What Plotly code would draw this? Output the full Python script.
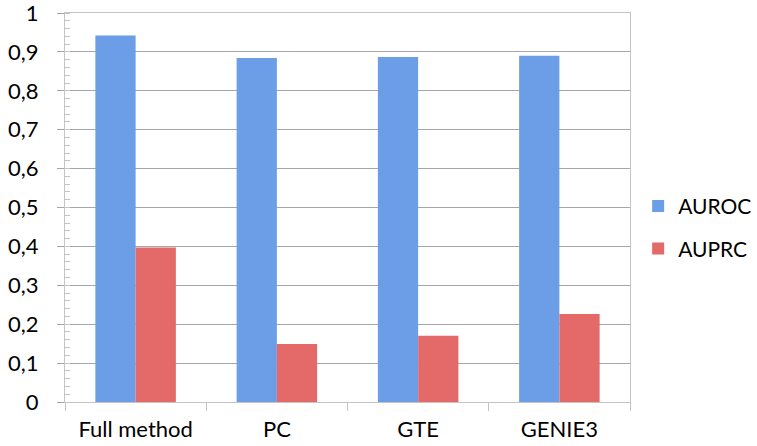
import plotly.graph_objects as go

categories = ["Full method", "PC", "GTE", "GENIE3"]
auroc = [0.942, 0.884, 0.887, 0.890]
auprc = [0.397, 0.149, 0.170, 0.226]
series_names = ["AUROC", "AUPRC"]

FONT = "Lato"
fig = go.Figure()
fig.add_trace(go.Bar(x=categories, y=auroc, name=series_names[0],
                     marker=dict(color="#6b9ee7", line=dict(width=0)),
                     legendgroup="a"))
fig.add_trace(go.Bar(x=categories, y=auprc, name=series_names[1],
                     marker=dict(color="#e46a6a", line=dict(width=0)),
                     legendgroup="b"))

fig.update_layout(
    width=757, height=446,
    margin=dict(l=65, r=127, t=13, b=44, autoexpand=False),
    paper_bgcolor="white", plot_bgcolor="white",
    separators=",.",
    barmode="group", bargap=0.43, bargroupgap=0,
    font=dict(family=FONT, size=22, color="black"),
    legend=dict(xref="container", yref="container", x=0.843, y=0.49,
                xanchor="left", yanchor="middle",
                font=dict(size=21), tracegroupgap=12,
                traceorder="grouped", itemwidth=30),
    showlegend=True,
)
fig.update_xaxes(
    type="category", automargin=False,
    showline=True, linecolor="#c4c4c4", linewidth=1, mirror=True,
    ticks="outside", tickson="boundaries", ticklen=8, tickcolor="#c4c4c4",
    ticklabelstandoff=8, tickfont=dict(size=22),
    ticklabeloverflow="allow",
    showgrid=False, zeroline=False,
)
fig.update_yaxes(
    range=[0, 1], tickmode="linear", tick0=0, dtick=0.1, automargin=False,
    showline=True, linecolor="#c4c4c4", linewidth=1, mirror=True,
    ticks="outside", ticklen=7, tickcolor="#a6a6a6",
    ticklabelstandoff=14, ticklabeloverflow="allow",
    showgrid=True, gridcolor="#a6a6a6", gridwidth=1,
    zeroline=False,
    minor=dict(ticks="inside", ticklen=5, dtick=0.02, tickcolor="#c4c4c4",
               showgrid=False),
)
fig.write_html("out.html")
